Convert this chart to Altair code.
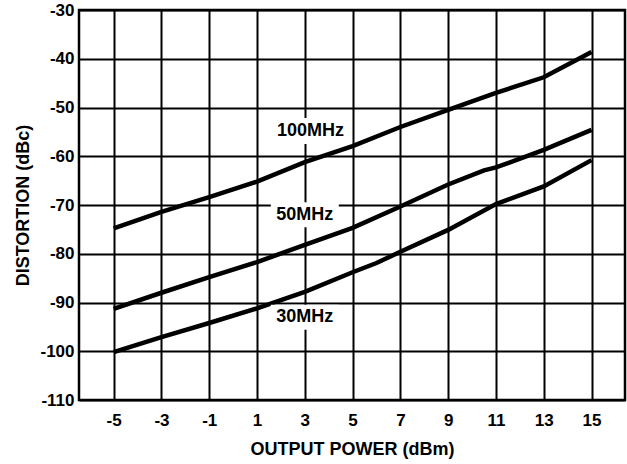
import altair as alt
import pandas as pd

# Output power (dBm) sample points for each curve
power_30 = [-5, -3, -1, 1, 3, 5, 6, 7, 9, 11, 13, 15]
dist_30 = [-100.2, -97.1, -94.2, -91.2, -87.8, -83.8, -81.9, -79.6, -75.1, -69.8, -66.2, -60.8]

power_50 = [-5, -3, -1, 1, 3, 5, 7, 9, 10.5, 11, 13, 15]
dist_50 = [-91.3, -88.0, -84.8, -81.7, -78.2, -74.7, -70.3, -65.8, -62.9, -62.3, -58.7, -54.6]

power_100 = [-5, -3, -1, 1, 3, 5, 7, 9, 11, 13, 15]
dist_100 = [-74.8, -71.4, -68.4, -65.2, -61.2, -57.9, -54.0, -50.5, -47.0, -43.8, -38.6]

# Curve labels and their anchor points
label_text = ["100MHz", "50MHz", "30MHz"]
label_x = [3.24, 3.0, 3.0]
label_y = [-54.8, -72.0, -93.0]

x_ticks = [-5, -3, -1, 1, 3, 5, 7, 9, 11, 13, 15]
y_ticks = [-110, -100, -90, -80, -70, -60, -50, -40, -30]

rows = []
for name, xs, ys in [("30MHz", power_30, dist_30),
                     ("50MHz", power_50, dist_50),
                     ("100MHz", power_100, dist_100)]:
    for xv, yv in zip(xs, ys):
        rows.append({"freq": name, "power": xv, "dist": yv})
curves = pd.DataFrame(rows)
labels = pd.DataFrame({"text": label_text, "power": label_x, "dist": label_y})

FONT = "Liberation Sans"
HYPHEN_LABEL = "datum.value < 0 ? '-' + abs(datum.value) : '' + datum.value"

x_scale = alt.Scale(domain=[-6.45, 16.4], nice=False, zero=False)
y_scale = alt.Scale(domain=[-110, -30], nice=False, zero=False)

axis_style = dict(grid=True, gridColor="black", gridWidth=2, gridOpacity=1,
                  ticks=False, domain=False, labelExpr=HYPHEN_LABEL,
                  labelFont=FONT, labelFontSize=17, labelFontWeight="bold",
                  labelColor="black", titleFont=FONT, titleFontSize=18,
                  titleFontWeight="bold", titleColor="black")

x_axis = alt.Axis(values=x_ticks, title="OUTPUT POWER (dBm)",
                  labelPadding=12, titlePadding=12, **axis_style)
y_axis = alt.Axis(values=y_ticks, title="DISTORTION (dBc)",
                  labelPadding=5, titlePadding=7, **axis_style)

lines = alt.Chart(curves).mark_line(color="black", strokeWidth=4.5, strokeCap="butt").encode(
    x=alt.X("power:Q", scale=x_scale, axis=x_axis),
    y=alt.Y("dist:Q", scale=y_scale, axis=y_axis),
    detail="freq:N",
)

# White backing boxes that break the grid behind each curve label
wide_box = alt.Chart(labels).transform_filter(
    "length(datum.text) > 5"
).mark_rect(fill="white", width=80, height=26).encode(
    x=alt.X("power:Q", scale=x_scale),
    y=alt.Y("dist:Q", scale=y_scale),
)
narrow_box = alt.Chart(labels).transform_filter(
    "length(datum.text) <= 5"
).mark_rect(fill="white", width=68, height=25).encode(
    x=alt.X("power:Q", scale=x_scale),
    y=alt.Y("dist:Q", scale=y_scale),
)

texts = alt.Chart(labels).mark_text(font=FONT, fontSize=18, fontWeight="bold",
                                    color="black", align="center",
                                    baseline="middle").encode(
    x=alt.X("power:Q", scale=x_scale),
    y=alt.Y("dist:Q", scale=y_scale),
    text="text:N",
)

chart = alt.layer(lines, wide_box, narrow_box, texts).properties(
    width=546, height=390,
    autosize=alt.AutoSizeParams(type="none"),
    padding={"left": 79, "top": 10, "right": 2, "bottom": 64},
    background="white",
).configure_view(stroke="black", strokeWidth=2.5)

chart.save("out.html", embed_options={"renderer": "svg", "actions": False})
